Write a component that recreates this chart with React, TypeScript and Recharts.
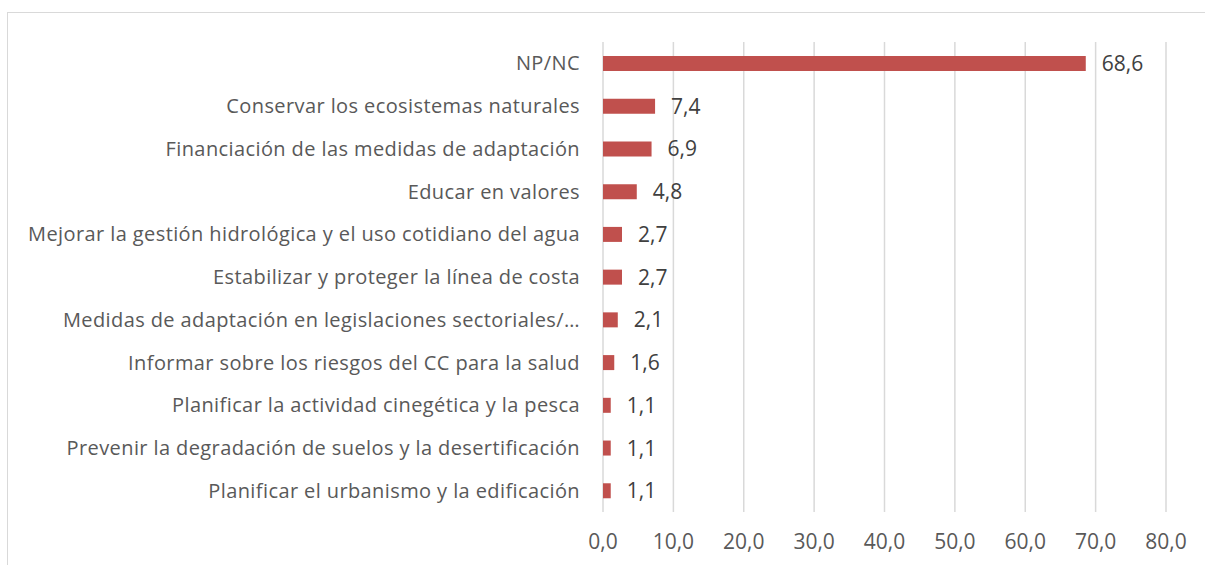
import { BarChart, Bar, XAxis, YAxis, CartesianGrid, LabelList } from "recharts";

const categories: string[] = [
  "NP/NC",
  "Conservar los ecosistemas naturales",
  "Financiación de las medidas de adaptación",
  "Educar en valores",
  "Mejorar la gestión hidrológica y el uso cotidiano del agua",
  "Estabilizar y proteger la línea de costa",
  "Medidas de adaptación en legislaciones sectoriales/…",
  "Informar sobre los riesgos del CC para la salud",
  "Planificar la actividad cinegética y la pesca",
  "Prevenir la degradación de suelos y la desertificación",
  "Planificar el urbanismo y la edificación",
];

const values: number[] = [68.6, 7.4, 6.9, 4.8, 2.7, 2.7, 2.1, 1.6, 1.1, 1.1, 1.1];

const xTicks: number[] = [0, 10, 20, 30, 40, 50, 60, 70, 80];

const data = categories.map((name, i) => ({ name, value: values[i] }));

const fmt = (v: number) => v.toFixed(1).replace(".", ",");

const font = "'Open Sans', sans-serif";

export default function App() {
  return (
    <div
      style={{
        position: "absolute",
        left: 0,
        top: 0,
        width: 1205,
        height: 565,
        overflow: "hidden",
        background: "#fff",
        fontFamily: font,
      }}
    >
      <div
        style={{
          position: "absolute",
          left: 7,
          top: 12,
          width: 1220,
          height: 600,
          border: "1px solid #d9d9d9",
        }}
      />
      <div style={{ position: "absolute", left: 0, top: 0 }}>
        <BarChart
          width={1205}
          height={565}
          data={data}
          layout="vertical"
          margin={{ top: 42, right: 39, bottom: 0, left: 0 }}
          barSize={15}
        >
          <CartesianGrid horizontal={false} stroke="#d9d9d9" strokeWidth={1.5} />
          <XAxis
            type="number"
            domain={[0, 80]}
            ticks={xTicks}
            tickFormatter={fmt}
            axisLine={false}
            tickLine={false}
            tickSize={0}
            tickMargin={22}
            height={53}
            interval={0}
            tick={{ fill: "#595959", fontSize: 21, fontFamily: font }}
          />
          <YAxis
            type="category"
            dataKey="name"
            width={603}
            axisLine={false}
            tickLine={false}
            tickSize={0}
            tickMargin={23}
            interval={0}
            tick={{ fill: "#595959", fontSize: 20, fontFamily: font, letterSpacing: 0.4 }}
          />
          <Bar dataKey="value" fill="#c0504d" isAnimationActive={false}>
            <LabelList
              dataKey="value"
              position="right"
              offset={16}
              formatter={(v: any) => fmt(Number(v))}
              style={{ fill: "#404040", fontSize: 21, fontFamily: font }}
            />
          </Bar>
        </BarChart>
      </div>
    </div>
  );
}
